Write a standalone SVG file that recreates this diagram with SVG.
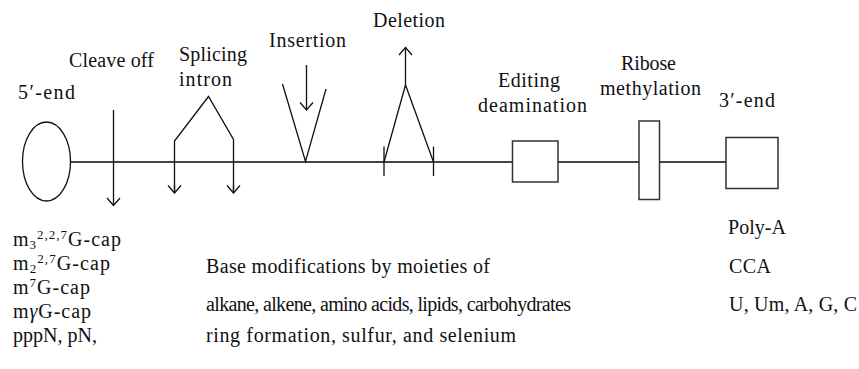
<svg xmlns="http://www.w3.org/2000/svg" width="859" height="369" viewBox="0 0 859 369">
<style>
text{font-family:"Liberation Serif","Times New Roman",serif;font-size:20px;fill:#111}
.s{font-size:13px}
.ln{fill:none;stroke:#111;stroke-width:1.3}
.main{fill:none;stroke:#444;stroke-width:2}
.box{fill:#fff;stroke:#333;stroke-width:1.5}
</style>
<defs>
<marker id="ah" markerUnits="userSpaceOnUse" markerWidth="20" markerHeight="20" viewBox="0 0 20 20" refX="10" refY="10" orient="auto">
<path d="M2.5,3.5 L10,10 L2.5,16.5" fill="none" stroke="#111" stroke-width="1.3"/>
</marker>
</defs>
<rect width="859" height="369" fill="#fff"/>
<g id="connectors">
<line class="main" x1="70" y1="162" x2="726" y2="162"/>
<line class="ln" x1="113.5" y1="110" x2="113.5" y2="205.5" marker-end="url(#ah)"/>
<polyline class="ln" points="174.5,193 174.5,141 208.5,96.5 233.5,139.5 233.5,193"/>
<line class="ln" x1="174.5" y1="185" x2="174.5" y2="193" marker-end="url(#ah)"/>
<line class="ln" x1="233.5" y1="185" x2="233.5" y2="193" marker-end="url(#ah)"/>
<line class="ln" x1="306.5" y1="65" x2="306.5" y2="110" marker-end="url(#ah)"/>
<polyline class="ln" points="282.5,84 305.5,161.5 326,89"/>
<polyline class="ln" points="384,162 405.5,85 433.5,162"/>
<line class="ln" x1="405.5" y1="85" x2="405.5" y2="47.5" marker-end="url(#ah)"/>
<line class="ln" x1="384" y1="146.5" x2="384" y2="176"/>
<line class="ln" x1="433.5" y1="146.5" x2="433.5" y2="176"/>
</g>
<g id="five-end">
<ellipse cx="46.5" cy="161.5" rx="24" ry="39.5" class="ln"/>
<text x="18" y="99" textLength="57">5′-end</text>
</g>
<g id="cleave"><text x="69" y="67" textLength="85">Cleave off</text></g>
<g id="splicing"><text x="179" y="61" textLength="68">Splicing</text><text x="179" y="86" textLength="53">intron</text></g>
<g id="insertion"><text x="269" y="47" textLength="77">Insertion</text></g>
<g id="deletion"><text x="373" y="27" textLength="72">Deletion</text></g>
<g id="editing">
<rect class="box" x="512.5" y="141" width="45.5" height="41"/>
<text x="498" y="87" textLength="62">Editing</text>
<text x="478" y="112" textLength="109">deamination</text>
</g>
<g id="ribose">
<rect class="box" x="639" y="121" width="20.5" height="78.5"/>
<text x="621" y="70" textLength="55">Ribose</text>
<text x="600" y="95" textLength="101">methylation</text>
</g>
<g id="three-end">
<rect class="box" x="726" y="137.5" width="52" height="51"/>
<text x="719" y="107" textLength="56">3′-end</text>
</g>
<g id="five-mods">
<text x="13" y="246" textLength="108">m<tspan class="s" dy="3">3</tspan><tspan class="s" dy="-10">2,2,7</tspan><tspan dy="7">G-cap</tspan></text>
<text x="13" y="270" textLength="97">m<tspan class="s" dy="3">2</tspan><tspan class="s" dy="-10">2,7</tspan><tspan dy="7">G-cap</tspan></text>
<text x="13" y="294" textLength="77">m<tspan class="s" dy="-7">7</tspan><tspan dy="7">G-cap</tspan></text>
<text x="13" y="318" textLength="78">m<tspan font-style="italic">γ</tspan>G-cap</text>
<text x="13" y="342" textLength="84">pppN, pN,</text>
</g>
<g id="base-mods">
<text x="206" y="273" textLength="284">Base modifications by moieties of</text>
<text x="206" y="311" font-size="19" textLength="365">alkane, alkene, amino acids, lipids, carbohydrates</text>
<text x="206" y="342" textLength="310">ring formation, sulfur, and selenium</text>
</g>
<g id="three-mods">
<text x="728" y="234" textLength="58">Poly-A</text>
<text x="729" y="273" textLength="42">CCA</text>
<text x="729" y="311" textLength="128">U, Um, A, G, C</text>
</g>
</svg>
